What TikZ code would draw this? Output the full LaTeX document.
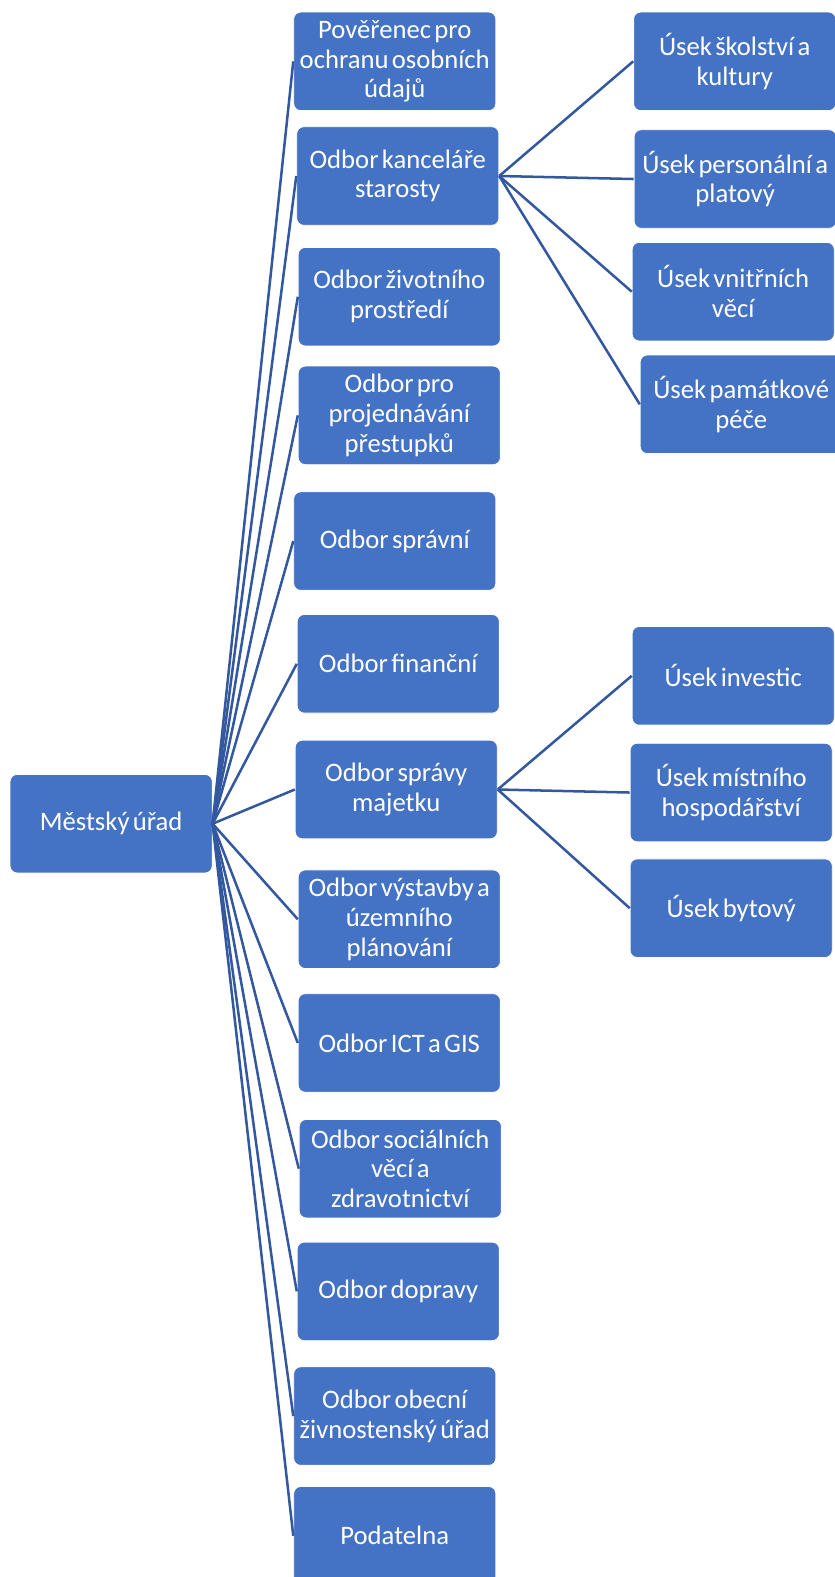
\documentclass[tikz,border=0pt]{standalone}
\usepackage{fontspec}
\setmainfont[WordSpace=0.55]{Carlito}
\definecolor{boxblue}{HTML}{4472C4}
\definecolor{lineblue}{HTML}{3358A0}
\begin{document}
\begin{tikzpicture}[x=1pt,y=-1pt,
  orgbox/.style={fill=boxblue, draw=white, line width=0.8pt, rounded corners=7pt,
    minimum width=201pt, minimum height=98pt, inner sep=1pt, align=center,
    text=white, font=\fontsize{26.5}{29.5}\selectfont},
  conn/.style={draw=lineblue, line width=2.5pt}]
\useasboundingbox (0,0) rectangle (830,1568);
\node[orgbox] (root) at (110.5,819) {Městský úřad};
\node[orgbox] (p1) at (392.5,61) {Pověřenec pro\\ochranu osobních\\údajů};
\node[orgbox] (p2) at (395.5,175) {Odbor kanceláře\\starosty};
\node[orgbox] (p3) at (397,295) {Odbor životního\\prostředí};
\node[orgbox] (p4) at (397,413) {Odbor pro\\projednávání\\přestupků};
\node[orgbox] (p5) at (392.5,538) {Odbor správní};
\node[orgbox] (p6) at (396,660) {Odbor finanční};
\node[orgbox] (p7) at (394,785) {Odbor správy\\majetku};
\node[orgbox] (p8) at (397,914) {Odbor výstavby a\\územního\\plánování};
\node[orgbox] (p9) at (397,1037) {Odbor ICT a GIS};
\node[orgbox] (p10) at (398,1162) {Odbor sociálních\\věcí a\\zdravotnictví};
\node[orgbox] (p11) at (396,1284) {Odbor dopravy};
\node[orgbox] (p12) at (392.5,1408) {Odbor obecní\\živnostenský úřad};
\node[orgbox] (p13) at (392.5,1527) {Podatelna};
\node[orgbox] (u1) at (730.5,61) {Úsek školství a\\kultury};
\node[orgbox] (u2) at (731,178) {Úsek personální a\\platový};
\node[orgbox] (u3) at (729,290) {Úsek vnitřních\\věcí};
\node[orgbox] (u4) at (737,402) {Úsek památkové\\péče};
\node[orgbox] (u5) at (729,672) {Úsek investic};
\node[orgbox] (u6) at (727,788) {Úsek místního\\hospodářství};
\node[orgbox] (u7) at (727,903) {Úsek bytový};
\foreach \n in {p1,p2,p3,p4,p5,p6,p7,p8,p9,p10,p11,p12,p13}
  \draw[conn] (root.east) -- (\n.west);
\foreach \n in {u1,u2,u3,u4}
  \draw[conn] (p2.east) -- (\n.west);
\foreach \n in {u5,u6,u7}
  \draw[conn] (p7.east) -- (\n.west);
\end{tikzpicture}
\end{document}
